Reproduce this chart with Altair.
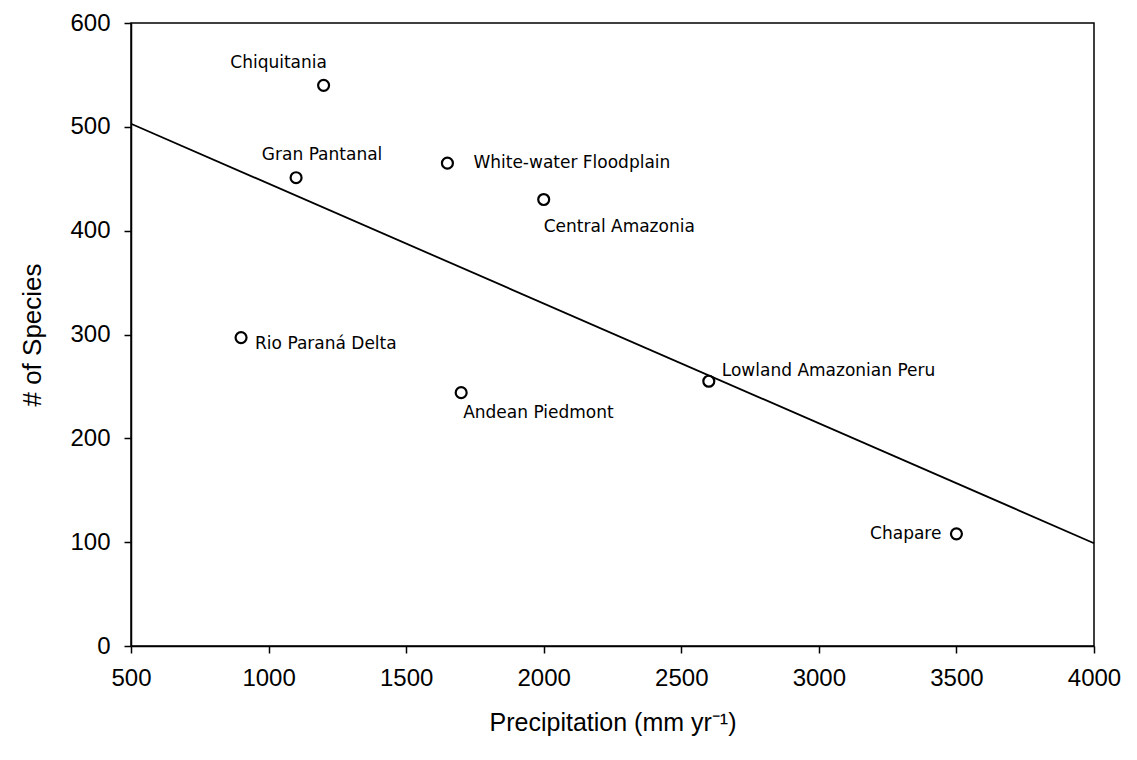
import altair as alt
import pandas as pd

# Data
sites = ["Chiquitania", "Gran Pantanal", "White-water Floodplain", "Central Amazonia",
         "Rio Paraná Delta", "Andean Piedmont", "Lowland Amazonian Peru", "Chapare"]
precip = [1200, 1100, 1650, 2000, 900, 1700, 2600, 3500]
species = [540, 451, 465, 430, 297, 244, 255, 108]
label_dx = [-45, 26, 26, 0, 14, 2, 13, -15]
label_dy = [-22, -23, 0, 27, 6, 20, -10, 0]
label_align = ["center", "center", "left", "left", "left", "left", "left", "right"]

fit_x = [500, 4000]
fit_y = [503, 99]

x_ticks = [500, 1000, 1500, 2000, 2500, 3000, 3500, 4000]
y_ticks = [0, 100, 200, 300, 400, 500, 600]

FONT = "Liberation Sans"

pts = pd.DataFrame({"site": sites, "precip": precip, "species": species})
fit = pd.DataFrame({"precip": fit_x, "species": fit_y})

xscale = alt.Scale(domain=[500, 4000], nice=False, zero=False)
yscale = alt.Scale(domain=[0, 600], nice=False)

xenc = alt.X("precip:Q", scale=xscale,
             axis=alt.Axis(values=x_ticks, format="d", title="Precipitation (mm yr⁻¹)", grid=False,
                           tickSize=7, labelPadding=13, titlePadding=20,
                           labelFontSize=24, titleFontSize=25, labelFont=FONT, titleFont=FONT,
                           titleFontWeight="normal", domainColor="black", tickColor="black",
                           labelColor="black", titleColor="black", domainWidth=1.5, tickWidth=1.5,
                           labelFlush=False))
yenc = alt.Y("species:Q", scale=yscale,
             axis=alt.Axis(values=y_ticks, format="d", title="# of Species", grid=False,
                           tickSize=7, labelPadding=14, titlePadding=24,
                           labelFontSize=24, titleFontSize=26, labelFont=FONT, titleFont=FONT,
                           titleFontWeight="normal", domainColor="black", tickColor="black",
                           labelColor="black", titleColor="black", domainWidth=1.5, tickWidth=1.5,
                           labelFlush=False))

line = alt.Chart(fit).mark_line(color="black", strokeWidth=1.8).encode(x=xenc, y=yenc)

points = alt.Chart(pts).mark_point(shape="circle", filled=False, color="black",
                                   size=120, strokeWidth=2.2, opacity=1).encode(
    x=alt.X("precip:Q", scale=xscale), y=alt.Y("species:Q", scale=yscale))

labels = []
for i, s in enumerate(sites):
    d = pts.iloc[[i]]
    labels.append(
        alt.Chart(d).mark_text(align=label_align[i], baseline="middle", dx=label_dx[i],
                               dy=label_dy[i], fontSize=17, font="DejaVu Sans", color="black").encode(
            x=alt.X("precip:Q", scale=xscale), y=alt.Y("species:Q", scale=yscale),
            text="site:N")
    )

chart = alt.layer(line, points, *labels).properties(
    width=963, height=623,
    autosize=alt.AutoSizeParams(type="none"),
    padding={"left": 131, "top": 23, "right": 43, "bottom": 114},
    background="white",
).configure_view(stroke="black", strokeWidth=1.5)

chart.save("out.html", embed_options={"renderer": "svg", "actions": False})
